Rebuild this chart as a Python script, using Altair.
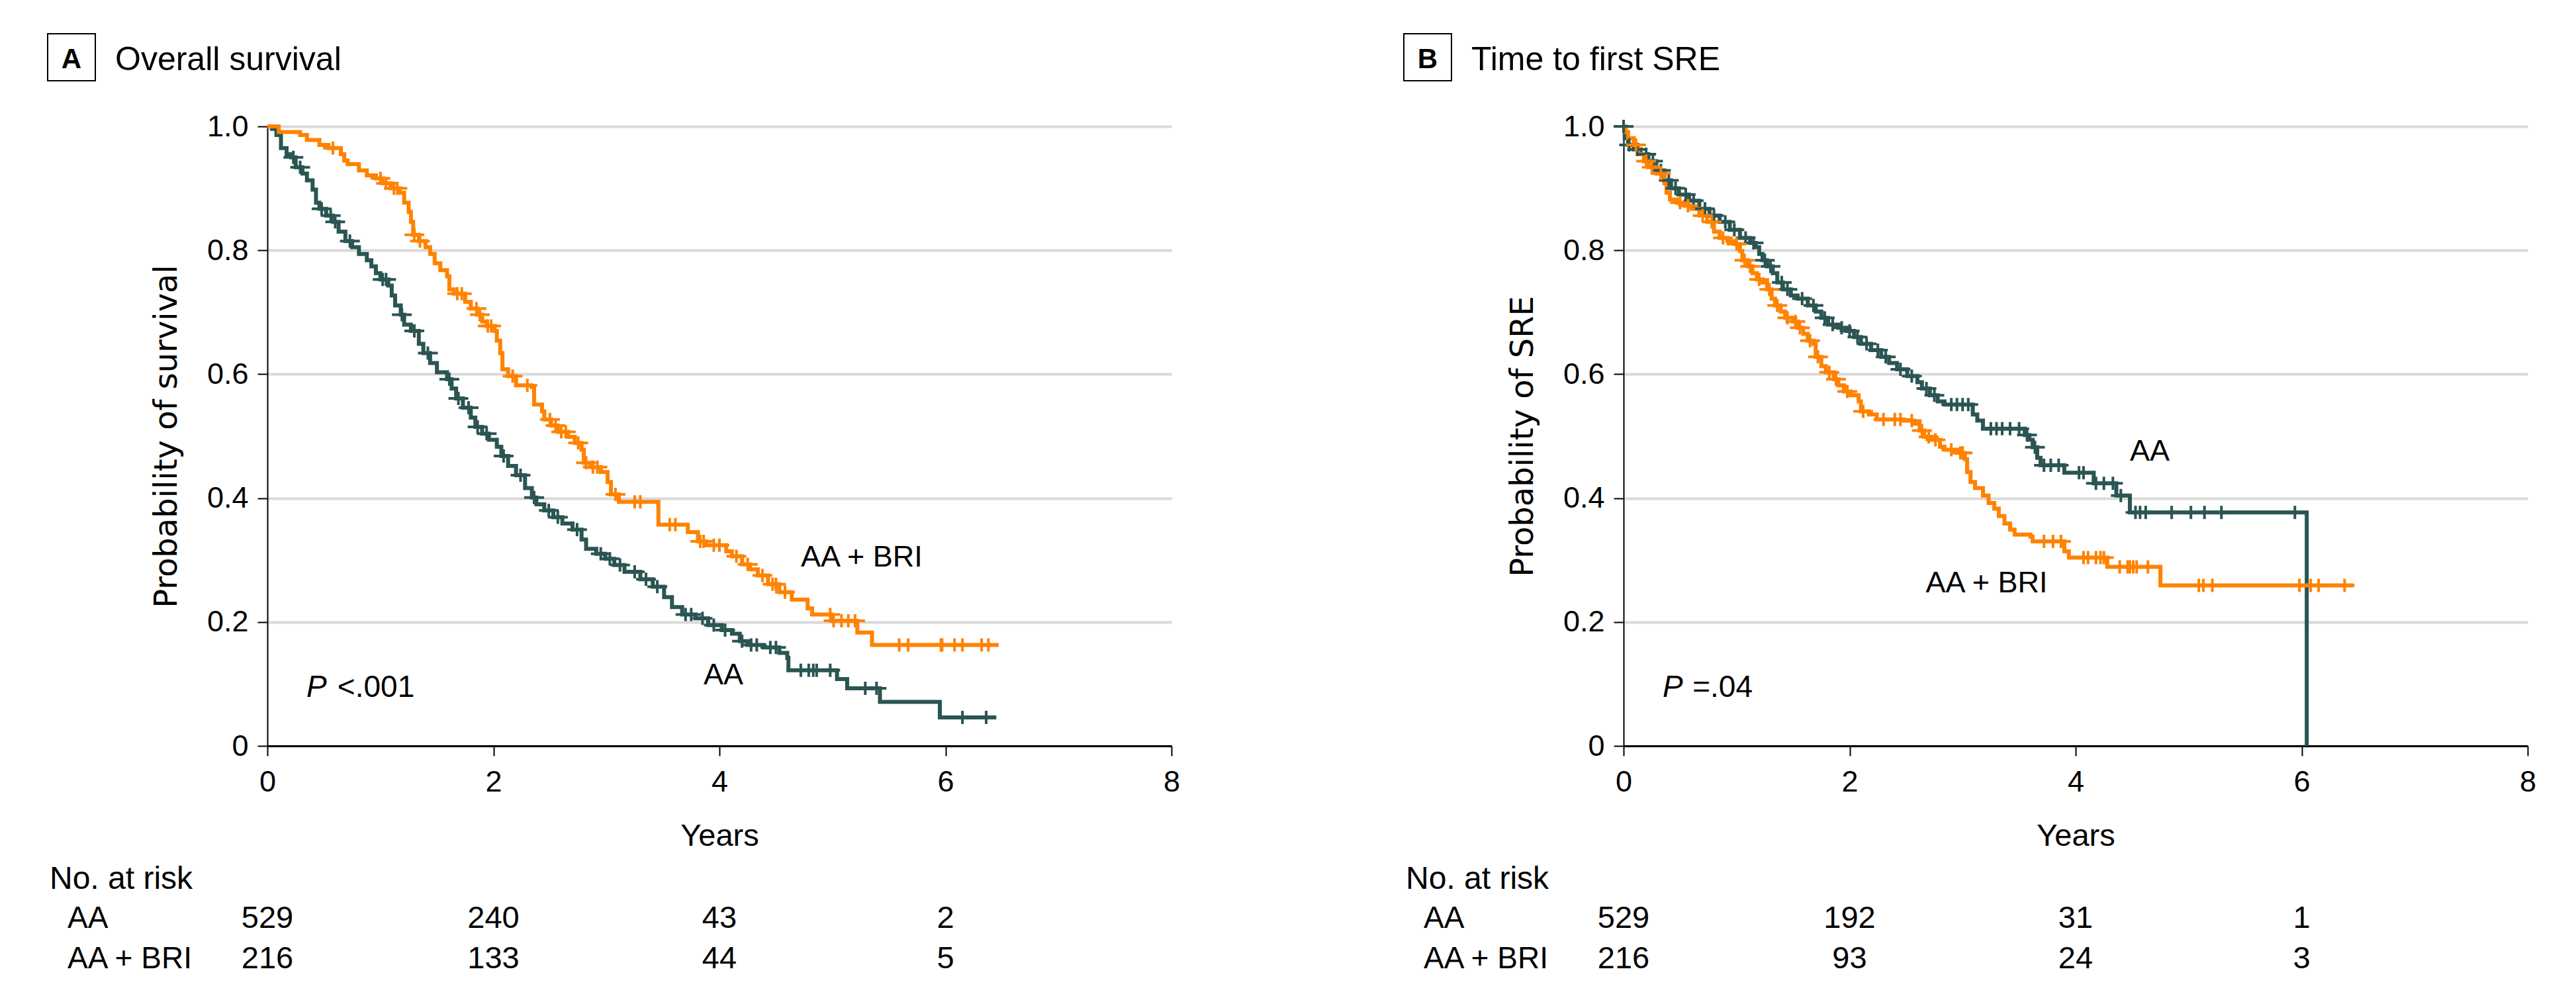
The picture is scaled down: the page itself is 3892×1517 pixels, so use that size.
import altair as alt
import pandas as pd

DARK = "#2A5553"
ORANGE = "#FF8200"
GROUPS = ["AA", "AA + BRI"]
FONT = "Liberation Sans"
YFONT = "DejaVu Sans"

# ---------------- Panel A: Overall survival ----------------
A_AA_T = [0, 0.04, 0.08, 0.12, 0.17, 0.21, 0.25, 0.31, 0.35, 0.40, 0.43, 0.46, 0.52, 0.58, 0.63,
          0.69, 0.75, 0.81, 0.88, 0.92, 0.96, 1.00, 1.07, 1.10, 1.13, 1.18, 1.21, 1.27, 1.34, 1.38,
          1.44, 1.50, 1.59, 1.63, 1.67, 1.73, 1.80, 1.84, 1.90, 1.96, 2.03, 2.07, 2.13, 2.20, 2.28,
          2.34, 2.38, 2.45, 2.53, 2.61, 2.70, 2.78, 2.82, 2.91, 2.99, 3.07, 3.16, 3.30, 3.41, 3.51,
          3.58, 3.67, 3.79, 3.90, 4.02, 4.11, 4.18, 4.25, 4.39, 4.53, 4.60, 4.61, 5.04, 5.13, 5.42,
          5.95, 6.45]
A_AA_S = [1.0, 0.996, 0.986, 0.965, 0.955, 0.950, 0.934, 0.924, 0.913, 0.898, 0.877, 0.867, 0.856,
          0.846, 0.830, 0.815, 0.805, 0.794, 0.784, 0.774, 0.763, 0.753, 0.743, 0.727, 0.711, 0.696,
          0.680, 0.670, 0.649, 0.634, 0.618, 0.603, 0.592, 0.577, 0.561, 0.546, 0.530, 0.515, 0.504,
          0.494, 0.483, 0.468, 0.452, 0.437, 0.416, 0.401, 0.390, 0.380, 0.369, 0.359, 0.349, 0.333,
          0.318, 0.310, 0.302, 0.292, 0.281, 0.269, 0.257, 0.240, 0.224, 0.212, 0.206, 0.195, 0.187,
          0.181, 0.169, 0.163, 0.159, 0.150, 0.142, 0.122, 0.108, 0.093, 0.071, 0.046, 0.046]
A_BRI_T = [0, 0.10, 0.29, 0.35, 0.46, 0.54, 0.65, 0.68, 0.71, 0.81, 0.88, 0.96, 1.02, 1.09, 1.17,
           1.21, 1.25, 1.27, 1.29, 1.34, 1.40, 1.44, 1.48, 1.53, 1.59, 1.61, 1.65, 1.75, 1.80, 1.86,
           1.90, 1.94, 2.01, 2.03, 2.06, 2.08, 2.13, 2.20, 2.34, 2.36, 2.43, 2.45, 2.51, 2.57, 2.66,
           2.72, 2.78, 2.80, 2.86, 2.95, 3.01, 3.04, 3.11, 3.46, 3.72, 3.81, 3.88, 4.06, 4.11, 4.20,
           4.27, 4.34, 4.43, 4.53, 4.64, 4.78, 4.82, 4.99, 5.22, 5.35, 6.47]
A_BRI_S = [1.0, 0.991, 0.986, 0.978, 0.970, 0.965, 0.955, 0.945, 0.939, 0.929, 0.921, 0.916, 0.908,
           0.900, 0.893, 0.877, 0.862, 0.846, 0.825, 0.815, 0.805, 0.794, 0.779, 0.768, 0.758, 0.737,
           0.730, 0.717, 0.706, 0.696, 0.685, 0.678, 0.670, 0.654, 0.634, 0.608, 0.597, 0.582, 0.579,
           0.551, 0.540, 0.527, 0.517, 0.507, 0.499, 0.489, 0.478, 0.457, 0.450, 0.442, 0.426, 0.406,
           0.394, 0.357, 0.345, 0.330, 0.324, 0.314, 0.306, 0.293, 0.285, 0.275, 0.261, 0.248, 0.236,
           0.222, 0.212, 0.202, 0.183, 0.163, 0.163]
A_AA_CT = [0.23, 0.29, 0.48, 0.56, 0.60, 0.73, 1.02, 1.05, 1.19, 1.30, 1.42, 1.61, 1.69, 1.78, 1.86,
           1.94, 2.09, 2.24, 2.36, 2.49, 2.57, 2.74, 2.95, 3.03, 3.12, 3.25, 3.35, 3.45, 3.70, 3.75,
           3.85, 3.95, 4.05, 4.20, 4.28, 4.33, 4.45, 4.50, 4.72, 4.79, 4.83, 4.86, 4.98, 5.29, 5.39,
           6.15, 6.36]
A_AA_CS = [0.950, 0.934, 0.867, 0.856, 0.846, 0.815, 0.753, 0.753, 0.696, 0.670, 0.634, 0.592, 0.561,
           0.546, 0.515, 0.504, 0.468, 0.437, 0.401, 0.380, 0.369, 0.349, 0.310, 0.302, 0.292, 0.281,
           0.269, 0.257, 0.212, 0.212, 0.206, 0.195, 0.187, 0.169, 0.163, 0.163, 0.159, 0.159, 0.122,
           0.122, 0.122, 0.122, 0.122, 0.093, 0.093, 0.046, 0.046]
A_BRI_CT = [0.58, 1.00, 1.05, 1.12, 1.15, 1.30, 1.35, 1.68, 1.72, 1.85, 1.88, 1.95, 1.98, 2.17, 2.30,
            2.50, 2.55, 2.60, 2.64, 2.75, 2.82, 2.88, 2.92, 3.08, 3.25, 3.30, 3.56, 3.61, 3.83, 3.86,
            3.95, 4.00, 4.15, 4.25, 4.38, 4.47, 4.50, 4.58, 4.98, 5.01, 5.08, 5.14, 5.20, 5.59, 5.67,
            5.96, 5.97, 6.08, 6.15, 6.32, 6.38]
A_BRI_CS = [0.965, 0.916, 0.908, 0.900, 0.900, 0.825, 0.815, 0.730, 0.730, 0.706, 0.696, 0.678,
            0.678, 0.597, 0.582, 0.527, 0.517, 0.507, 0.507, 0.489, 0.457, 0.450, 0.450, 0.406, 0.394,
            0.394, 0.357, 0.357, 0.330, 0.330, 0.324, 0.324, 0.306, 0.293, 0.275, 0.261, 0.261, 0.248,
            0.212, 0.202, 0.202, 0.202, 0.202, 0.163, 0.163, 0.163, 0.163, 0.163, 0.163, 0.163, 0.163]
A_RISK_AA = ["529", "240", "43", "2"]
A_RISK_BRI = ["216", "133", "44", "5"]

# ---------------- Panel B: Time to first SRE ----------------
B_AA_T = [0, 0.01, 0.04, 0.09, 0.15, 0.22, 0.29, 0.36, 0.42, 0.49, 0.58, 0.67, 0.76, 0.85, 0.94,
          1.03, 1.12, 1.17, 1.20, 1.23, 1.27, 1.32, 1.36, 1.41, 1.48, 1.54, 1.63, 1.70, 1.75, 1.81,
          1.90, 1.97, 2.04, 2.10, 2.19, 2.28, 2.35, 2.42, 2.51, 2.60, 2.64, 2.71, 2.78, 2.84, 3.09,
          3.13, 3.18, 3.55, 3.59, 3.62, 3.66, 3.69, 3.90, 4.16, 4.36, 4.48, 6.045]
B_AA_S = [1.0, 0.981, 0.970, 0.963, 0.955, 0.944, 0.929, 0.913, 0.900, 0.890, 0.880, 0.867, 0.856,
          0.846, 0.833, 0.820, 0.812, 0.805, 0.794, 0.784, 0.774, 0.763, 0.748, 0.737, 0.727, 0.722,
          0.711, 0.701, 0.691, 0.680, 0.675, 0.670, 0.660, 0.649, 0.639, 0.628, 0.618, 0.608, 0.597,
          0.587, 0.577, 0.566, 0.556, 0.551, 0.535, 0.525, 0.512, 0.502, 0.494, 0.482, 0.465, 0.453,
          0.441, 0.424, 0.404, 0.377, 0.0]
B_BRI_T = [0, 0.02, 0.04, 0.09, 0.13, 0.18, 0.22, 0.29, 0.36, 0.38, 0.41, 0.47, 0.54, 0.60, 0.67,
           0.74, 0.80, 0.85, 0.92, 0.98, 1.03, 1.05, 1.10, 1.14, 1.18, 1.23, 1.27, 1.31, 1.34, 1.39,
           1.43, 1.50, 1.54, 1.59, 1.63, 1.68, 1.70, 1.75, 1.79, 1.86, 1.90, 1.95, 2.01, 2.08, 2.10,
           2.17, 2.24, 2.48, 2.57, 2.62, 2.66, 2.73, 2.80, 2.84, 2.95, 3.02, 3.04, 3.07, 3.11, 3.18,
           3.23, 3.28, 3.32, 3.37, 3.42, 3.46, 3.60, 3.62, 3.90, 3.94, 4.28, 4.75, 6.46]
B_BRI_S = [1.0, 0.991, 0.981, 0.970, 0.955, 0.944, 0.934, 0.924, 0.908, 0.893, 0.882, 0.877, 0.872,
           0.867, 0.856, 0.846, 0.830, 0.820, 0.815, 0.810, 0.799, 0.784, 0.774, 0.763, 0.753, 0.748,
           0.737, 0.722, 0.711, 0.701, 0.691, 0.685, 0.675, 0.665, 0.654, 0.649, 0.628, 0.613, 0.603,
           0.592, 0.582, 0.572, 0.566, 0.556, 0.540, 0.535, 0.527, 0.525, 0.520, 0.509, 0.499, 0.494,
           0.483, 0.478, 0.473, 0.463, 0.442, 0.426, 0.416, 0.404, 0.392, 0.383, 0.371, 0.359, 0.349,
           0.341, 0.338, 0.330, 0.314, 0.304, 0.289, 0.259, 0.259]
B_AA_CT = [0.0, 0.05, 0.12, 0.20, 0.26, 0.33, 0.40, 0.46, 0.55, 0.62, 0.72, 0.80, 0.90, 0.98, 1.08,
           1.15, 1.25, 1.30, 1.40, 1.45, 1.58, 1.68, 1.78, 1.85, 1.93, 2.00, 2.07, 2.15, 2.25, 2.32,
           2.45, 2.55, 2.68, 2.75, 2.90, 2.95, 3.00, 3.05, 3.25, 3.30, 3.35, 3.42, 3.50, 3.57, 3.64,
           3.72, 3.78, 3.85, 4.03, 4.07, 4.18, 4.25, 4.33, 4.40, 4.53, 4.57, 4.62, 4.85, 5.02, 5.14,
           5.29, 5.94]
B_AA_CS = [1.0, 0.970, 0.963, 0.955, 0.944, 0.929, 0.913, 0.900, 0.890, 0.880, 0.867, 0.856, 0.846,
           0.833, 0.820, 0.812, 0.784, 0.774, 0.748, 0.737, 0.722, 0.711, 0.691, 0.680, 0.675, 0.670,
           0.660, 0.649, 0.639, 0.628, 0.608, 0.597, 0.577, 0.566, 0.551, 0.551, 0.551, 0.551, 0.512,
           0.512, 0.512, 0.512, 0.512, 0.502, 0.482, 0.453, 0.453, 0.453, 0.441, 0.441, 0.424, 0.424,
           0.424, 0.404, 0.377, 0.377, 0.377, 0.377, 0.377, 0.377, 0.377, 0.377]
B_BRI_CT = [0.11, 0.20, 0.25, 0.33, 0.50, 0.57, 0.70, 0.78, 0.88, 1.00, 1.07, 1.12, 1.20, 1.29, 1.36,
            1.45, 1.52, 1.56, 1.65, 1.72, 1.82, 1.88, 1.98, 2.12, 2.30, 2.40, 2.45, 2.55, 2.64, 2.70,
            2.76, 2.90, 2.98, 3.00, 3.72, 3.80, 3.87, 4.07, 4.11, 4.18, 4.22, 4.25, 4.39, 4.46, 4.48,
            4.51, 4.54, 4.64, 5.09, 5.13, 5.21, 5.98, 6.08, 6.15, 6.38]
B_BRI_CS = [0.970, 0.944, 0.934, 0.924, 0.877, 0.872, 0.856, 0.846, 0.820, 0.810, 0.784, 0.774, 0.753,
            0.737, 0.711, 0.691, 0.685, 0.675, 0.654, 0.628, 0.603, 0.592, 0.572, 0.540, 0.527, 0.527,
            0.527, 0.525, 0.509, 0.499, 0.494, 0.478, 0.473, 0.473, 0.330, 0.330, 0.330, 0.304, 0.304,
            0.304, 0.304, 0.304, 0.289, 0.289, 0.289, 0.289, 0.289, 0.289, 0.259, 0.259, 0.259, 0.259,
            0.259, 0.259, 0.259]
B_RISK_AA = ["529", "192", "31", "1"]
B_RISK_BRI = ["216", "93", "24", "3"]

RISK_YEARS = [0, 2, 4, 6]


def panel(letter, title, ytitle, aa_t, aa_s, bri_t, bri_s, aa_ct, aa_cs, bri_ct, bri_cs,
          risk_aa, risk_bri, lab_aa, lab_bri, p_main, p_rest):
    curves = pd.DataFrame({
        "t": aa_t + bri_t,
        "s": aa_s + bri_s,
        "grp": ["AA"] * len(aa_t) + ["AA + BRI"] * len(bri_t),
    })
    cens = pd.DataFrame({
        "t": aa_ct + bri_ct,
        "s": aa_cs + bri_cs,
        "grp": ["AA"] * len(aa_ct) + ["AA + BRI"] * len(bri_ct),
    })
    labels = pd.DataFrame({
        "t": [lab_aa[0], lab_bri[0]],
        "s": [lab_aa[1], lab_bri[1]],
        "txt": ["AA", "AA + BRI"],
    })
    pv1 = pd.DataFrame({"t": [p_main[0]], "s": [p_main[1]], "txt": ["P"]})
    pv2 = pd.DataFrame({"t": [p_rest[0]], "s": [p_rest[1]], "txt": [p_rest[2]]})
    r_aa = pd.DataFrame({"t": RISK_YEARS, "txt": risk_aa})
    r_bri = pd.DataFrame({"t": RISK_YEARS, "txt": risk_bri})
    one = pd.DataFrame({"k": [0]})

    x = alt.X("t:Q", scale=alt.Scale(domain=[0, 8], nice=False, zero=False),
              axis=alt.Axis(values=[0, 2, 4, 6, 8], format="d", grid=False,
                            domainColor="black", domainWidth=3, tickColor="black",
                            tickWidth=2, tickSize=15, labelFont=FONT, labelFontSize=45,
                            labelColor="black", labelPadding=17, labelFlush=False,
                            title="Years", titleFont=FONT, titleFontSize=47,
                            titleFontWeight="normal", titleColor="black",
                            titleY=150, titleBaseline="alphabetic"))
    y = alt.Y("s:Q", scale=alt.Scale(domain=[0, 1], nice=False),
              axis=alt.Axis(values=[0, 0.2, 0.4, 0.6, 0.8, 1.0],
                            labelExpr="datum.value == 0 ? '0' : format(datum.value, '.1f')",
                            grid=True, gridColor="#D9D9D9", gridWidth=4,
                            domainColor="black", domainWidth=2, tickColor="black",
                            tickWidth=2, tickSize=15, labelFont=FONT, labelFontSize=45,
                            labelColor="black", labelPadding=14,
                            title=ytitle, titleFont=YFONT, titleFontSize=48,
                            titleFontWeight="normal", titleColor="black",
                            titleX=-152, titleY=468, titleAngle=270,
                            titleAlign="center", titleBaseline="middle"))
    color = alt.Color("grp:N", scale=alt.Scale(domain=GROUPS, range=[DARK, ORANGE]),
                      legend=None)

    line = alt.Chart(curves).mark_line(interpolate="step-after", strokeWidth=6).encode(
        x=x, y=y, color=color)
    ticks = alt.Chart(cens).mark_point(shape="M-1.5,0H1.5M0,-1V1", size=400, strokeWidth=4,
                                       filled=False, opacity=1).encode(x=x, y=y, color=color)
    curve_labels = alt.Chart(labels).mark_text(font=FONT, fontSize=45, align="left",
                                               baseline="alphabetic", color="black").encode(
        x=x, y=y, text="txt:N")
    p1 = alt.Chart(pv1).mark_text(font=FONT, fontSize=46, fontStyle="italic", align="left",
                                  baseline="alphabetic", color="black").encode(x=x, y=y, text="txt:N")
    p2 = alt.Chart(pv2).mark_text(font=FONT, fontSize=46, align="left",
                                  baseline="alphabetic", color="black").encode(x=x, y=y, text="txt:N")

    risk1 = alt.Chart(r_aa).mark_text(font=FONT, fontSize=47, align="center",
                                      baseline="alphabetic", color="black").encode(
        x=x, y=alt.value(1211), text="txt:N")
    risk2 = alt.Chart(r_bri).mark_text(font=FONT, fontSize=47, align="center",
                                       baseline="alphabetic", color="black").encode(
        x=x, y=alt.value(1272), text="txt:N")
    risk_head = alt.Chart(one).mark_text(text="No. at risk", font=FONT, fontSize=48,
                                         align="left", baseline="alphabetic", color="black").encode(
        x=alt.value(-329), y=alt.value(1152))
    row1 = alt.Chart(one).mark_text(text="AA", font=FONT, fontSize=46, align="left",
                                    baseline="alphabetic", color="black").encode(
        x=alt.value(-302), y=alt.value(1211))
    row2 = alt.Chart(one).mark_text(text="AA + BRI", font=FONT, fontSize=46, align="left",
                                    baseline="alphabetic", color="black").encode(
        x=alt.value(-302), y=alt.value(1272))

    box = alt.Chart(one).mark_rect(fill="white", stroke="black", strokeWidth=2).encode(
        x=alt.value(-332), x2=alt.value(-260), y=alt.value(-140), y2=alt.value(-69))
    box_letter = alt.Chart(one).mark_text(text=letter, font=FONT, fontSize=42, fontWeight="bold",
                                          align="center", baseline="alphabetic",
                                          color="black").encode(
        x=alt.value(-296), y=alt.value(-88))
    ttl = alt.Chart(one).mark_text(text=title, font=FONT, fontSize=50, align="left",
                                   baseline="alphabetic", color="black").encode(
        x=alt.value(-230), y=alt.value(-85))

    return alt.layer(line, ticks, curve_labels, p1, p2, risk1, risk2, risk_head, row1, row2,
                     box, box_letter, ttl).properties(width=1366, height=936)


panel_a = panel("A", "Overall survival", "Probability of survival",
                A_AA_T, A_AA_S, A_BRI_T, A_BRI_S, A_AA_CT, A_AA_CS, A_BRI_CT, A_BRI_CS,
                A_RISK_AA, A_RISK_BRI, (3.86, 0.099), (4.72, 0.289),
                (0.345, 0.079), (0.62, 0.079, "<.001"))
panel_b = panel("B", "Time to first SRE", "Probability of SRE",
                B_AA_T, B_AA_S, B_BRI_T, B_BRI_S, B_AA_CT, B_AA_CS, B_BRI_CT, B_BRI_CS,
                B_RISK_AA, B_RISK_BRI, (4.48, 0.460), (2.674, 0.248),
                (0.345, 0.079), (0.61, 0.079, "=.04"))

chart = alt.hconcat(panel_a, panel_b, spacing=337).resolve_scale(
    x="independent", y="independent", color="shared"
).configure_view(stroke=None).properties(
    padding={"left": 63, "top": 42, "right": 5, "bottom": 5}, background="white"
)

chart.save("out.html", embed_options={"renderer": "svg", "actions": False})
